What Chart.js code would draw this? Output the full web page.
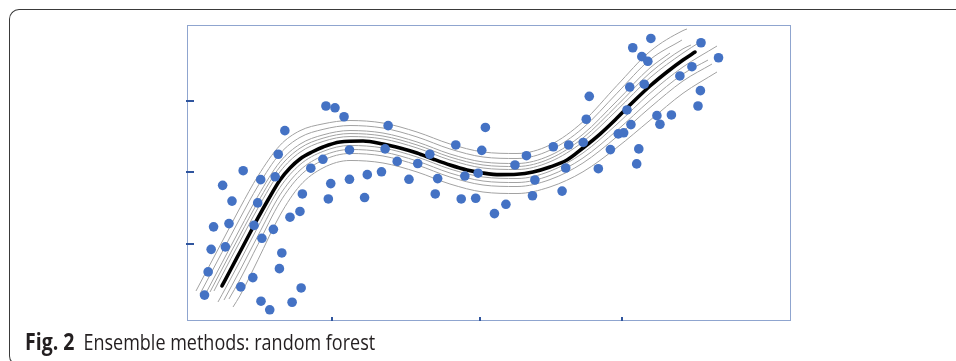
<!DOCTYPE html>
<html><head><meta charset="utf-8">
<script src="https://cdn.jsdelivr.net/npm/chart.js@4.4.0/dist/chart.umd.min.js"></script>
<style>
html,body{margin:0;padding:0;background:#fff;width:956px;height:361px;overflow:hidden;}
#frame{position:absolute;left:9px;top:9px;width:1000px;height:357px;border-top:1.5px solid #3a3a3a;border-left:1.5px solid #3a3a3a;border-bottom:1.5px solid #3a3a3a;border-radius:10px 0 0 10px;box-sizing:border-box;}
#wrap{position:absolute;left:0;top:0;width:956px;height:361px;}
#caption{position:absolute;left:25px;top:334px;height:20px;font-family:'Open Sans',sans-serif;font-size:18px;line-height:20px;color:#231f20;white-space:nowrap;transform:scale(1,1.18);transform-origin:0 100%;}
#caption b{font-weight:700;font-size:19.5px;line-height:20px;margin-right:9px;}
</style></head>
<body>
<div id="frame"></div>
<div id="wrap"><canvas id="c" width="956" height="361"></canvas></div>
<div id="caption"><b>Fig. 2</b>Ensemble methods: random forest</div>
<script>
// Observations
const pointX = [1.62,1.51,0.93,1.22,1.46,0.59,2.05,2.25,2.38,2.34,0.745,1.17,1.91,1.87,1.705,0.44,0.695,1.11,1.43,1.24,0.40,0.635,1.57,1.53,0.35,1.09,0.89,1.89,0.29,1.225,1.37,1.74,
 2.30,2.45,2.60,3.33,4.94,4.45,4.88,2.69,3.28,3.48,3.82,4.02,2.69,2.985,3.22,3.675,4.15,4.60,4.82,2.94,4.11,4.54,4.78,5.09,5.28,
 6.66,6.61,7.285,5.62,6.065,6.32,6.56,7.14,7.23,7.35,5.43,7.01,7.48,6.27,6.81,7.445,5.76,5.72,6.21,
 7.68,7.38,7.53,7.63,8.51,8.80,8.36,8.16,7.33,7.57,8.50,8.46,7.78,8.02,7.83];
const pointY = [1.585,1.255,1.025,0.90,0.94,0.82,1.06,1.185,0.845,0.63,0.60,0.575,0.70,0.455,0.375,0.24,0.285,0.26,0.205,0.08,-0.075,-0.04,-0.125,-0.345,-0.39,-0.47,-0.60,-0.615,-0.715,-0.80,-0.92,-0.815,
 1.93,1.905,1.78,1.655,1.63,1.385,1.31,1.315,1.33,1.155,1.125,1.255,0.905,0.97,1.01,0.905,0.915,0.95,0.99,0.65,0.70,0.63,0.64,0.425,0.555,
 2.065,1.745,1.875,1.235,1.36,1.385,1.42,1.54,1.555,1.67,1.105,1.32,1.33,1.063,1.053,1.12,0.895,0.675,0.74,
 2.875,2.745,2.62,2.555,2.815,2.605,2.48,2.35,2.195,2.235,2.145,1.93,1.795,1.805,1.675];

// Ensemble (mean) fit
const fitX = [0.579,0.728,0.877,1.026,1.175,1.341,1.540,1.705,1.871,2.070,2.252,2.533,2.914,3.245,3.526,3.808,4.073,4.354,4.636,4.901,5.182,5.464,5.728,6.010,6.291,6.556,6.838,7.119,7.384,7.666,7.947,8.212,8.411];
const fitY = [-0.587,-0.350,-0.112,0.126,0.364,0.615,0.895,1.063,1.189,1.287,1.357,1.427,1.441,1.399,1.343,1.273,1.189,1.105,1.035,0.993,0.970,0.975,1.007,1.077,1.175,1.343,1.538,1.762,1.986,2.210,2.406,2.573,2.685];

// Individual trees
const tree1X = [0.149,0.579,0.877,1.175,1.540,1.871,2.252,2.699,3.245,3.808,4.354,4.901,5.464,6.010,6.556,7.119,7.666,8.212,8.278];
const tree1Y = [-0.657,0.029,0.505,0.951,1.380,1.585,1.680,1.727,1.692,1.566,1.399,1.287,1.266,1.385,1.710,2.217,2.694,2.985,3.007];
const tree2X = [0.215,0.579,0.877,1.175,1.540,1.871,2.252,2.699,3.245,3.808,4.354,4.901,5.464,6.010,6.556,7.119,7.666,8.195];
const tree2Y = [-0.699,-0.117,0.358,0.811,1.264,1.491,1.603,1.657,1.622,1.497,1.329,1.217,1.196,1.312,1.622,2.109,2.579,2.853];
const tree3X = [0.315,0.579,0.877,1.175,1.540,1.871,2.252,2.699,3.245,3.808,4.354,4.901,5.464,6.010,6.556,7.119,7.666,7.997];
const tree3Y = [-0.685,-0.264,0.211,0.671,1.149,1.397,1.526,1.587,1.552,1.427,1.259,1.147,1.126,1.238,1.535,2.001,2.464,2.671];
const tree4X = [0.381,0.579,0.877,1.175,1.540,1.871,2.252,2.699,3.245,3.808,4.354,4.901,5.464,6.010,6.556,7.119,7.666,8.212,8.344];
const tree4Y = [-0.671,-0.352,0.123,0.587,1.080,1.340,1.480,1.545,1.510,1.385,1.217,1.105,1.084,1.194,1.483,1.936,2.394,2.730,2.783];
const tree5X = [0.447,0.579,0.877,1.175,1.540,1.871,2.252,2.699,3.245,3.808,4.354,4.901,5.464,6.010,6.556,7.119,7.666,8.212,8.493];
const tree5Y = [-0.657,-0.441,0.035,0.503,1.010,1.283,1.434,1.503,1.469,1.343,1.175,1.063,1.042,1.150,1.430,1.871,2.325,2.671,2.825];
const tree6X = [0.513,0.579,0.877,1.175,1.540,1.871,2.252,2.699,3.245,3.808,4.354,4.901,5.464,6.010,6.556,7.119,7.666,8.212,8.775];
const tree6Y = [-0.811,-0.710,-0.241,0.241,0.792,1.110,1.295,1.378,1.343,1.217,1.049,0.937,0.916,1.018,1.273,1.676,2.109,2.476,2.769];
const tree7X = [0.613,0.877,1.175,1.540,1.871,2.252,2.699,3.245,3.808,4.354,4.901,5.464,6.010,6.556,7.119,7.666,8.212,8.626];
const tree7Y = [-0.783,-0.369,0.117,0.688,1.032,1.234,1.322,1.287,1.161,0.993,0.881,0.860,0.959,1.203,1.589,2.008,2.378,2.573];
const tree8X = [0.695,0.877,1.175,1.540,1.871,2.252,2.699,3.245,3.808,4.354,4.901,5.464,6.010,6.556,7.119,7.666,8.212,8.692];
const tree8Y = [-0.769,-0.498,-0.006,0.585,0.954,1.172,1.266,1.231,1.105,0.937,0.825,0.804,0.901,1.133,1.502,1.908,2.280,2.517];
const tree9X = [0.762,0.877,1.175,1.540,1.871,2.252,2.699,3.245,3.808,4.354,4.901,5.464,6.010,6.556,7.119,7.666,8.212,8.775];
const tree9Y = [-0.881,-0.723,-0.221,0.403,0.817,1.064,1.168,1.133,1.007,0.839,0.727,0.706,0.798,1.010,1.350,1.731,2.108,2.406];

// Axis tick values (unlabelled)
const xTicks = [2.40, 4.85, 7.20];
const yTicks = [0, 1, 2];

const zip = (xs, ys) => xs.map((v, i) => ({x: v, y: ys[i]}));
const trees = [[tree1X,tree1Y],[tree2X,tree2Y],[tree3X,tree3Y],[tree4X,tree4Y],[tree5X,tree5Y],[tree6X,tree6Y],[tree7X,tree7Y],[tree8X,tree8Y],[tree9X,tree9Y]];

const datasets = [{
  label: 'data', data: zip(pointX, pointY), order: 0,
  backgroundColor: '#4472C4', borderWidth: 0, pointRadius: 4.8, pointHoverRadius: 4.8, showLine: false
}];
trees.forEach(([xs, ys], i) => datasets.push({
  label: 'tree' + (i + 1), data: zip(xs, ys), order: 2, showLine: true,
  borderColor: '#a2a2a2', borderWidth: 1, pointRadius: 0, cubicInterpolationMode: 'monotone', fill: false
}));
datasets.push({
  label: 'forest', data: zip(fitX, fitY), order: 1, showLine: true,
  borderColor: '#000000', borderWidth: 3.6, pointRadius: 0, cubicInterpolationMode: 'monotone', fill: false,
  borderCapStyle: 'round'
});

const framePlugin = {
  id: 'framePlugin',
  beforeDatasetsDraw(chart) {
    const {ctx, chartArea: a, scales: {x, y}} = chart;
    ctx.save();
    ctx.strokeStyle = '#8fa5cf'; ctx.lineWidth = 1;
    ctx.strokeRect(a.left + 0.5, a.top + 0.5, a.right - a.left - 1, a.bottom - a.top - 1);
    ctx.strokeStyle = '#2f559e'; ctx.lineWidth = 2;
    yTicks.forEach(v => {
      const py = Math.round(y.getPixelForValue(v));
      ctx.beginPath(); ctx.moveTo(a.left - 1, py); ctx.lineTo(a.left + 7, py); ctx.stroke();
    });
    xTicks.forEach(v => {
      const px = Math.round(x.getPixelForValue(v));
      ctx.beginPath(); ctx.moveTo(px, a.bottom); ctx.lineTo(px, a.bottom - 4); ctx.stroke();
    });
    ctx.restore();
  }
};

new Chart(document.getElementById('c'), {
  type: 'scatter',
  data: {datasets},
  options: {
    responsive: false, animation: false, devicePixelRatio: 1,
    layout: {padding: {left: 187, right: 165, top: 25, bottom: 40}},
    plugins: {legend: {display: false}, tooltip: {enabled: false}, title: {display: false}},
    scales: {
      x: {type: 'linear', display: false, min: 0, max: 10},
      y: {type: 'linear', display: false, min: -1.077, max: 3.063}
    },
    clip: false
  },
  plugins: [framePlugin]
});
</script>
</body></html>
